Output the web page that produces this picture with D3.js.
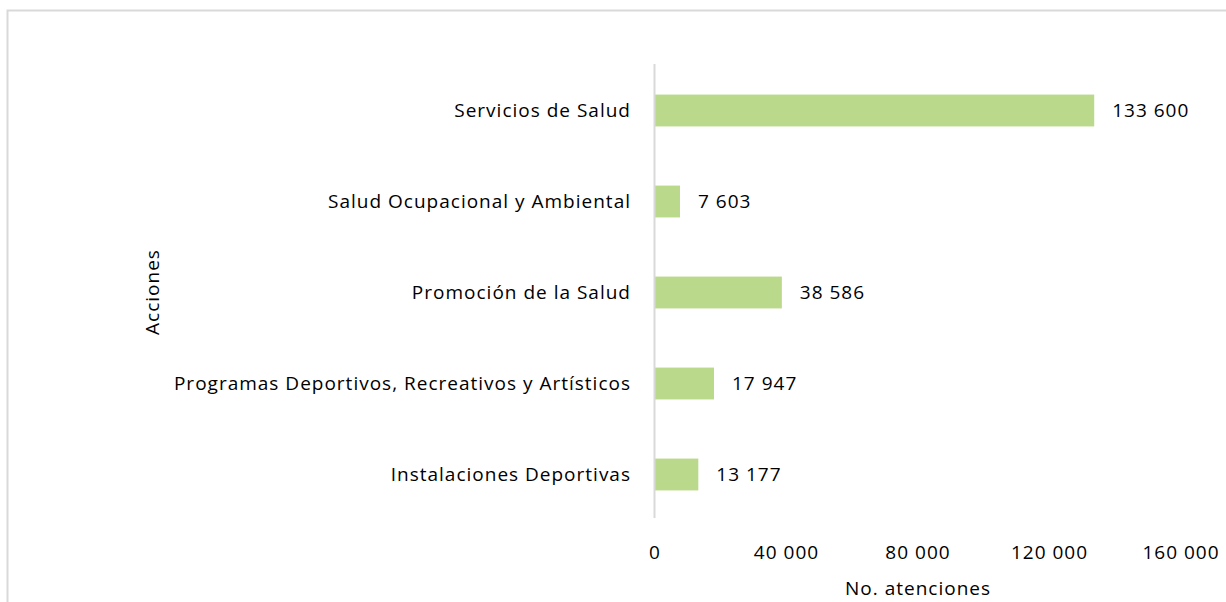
<!DOCTYPE html>
<html>
<head>
<meta charset="utf-8">
<script src="https://cdn.jsdelivr.net/npm/d3@7"></script>
<style>
  body { margin: 0; background: #fff; }
  text { font-family: "Open Sans", "Noto Sans", sans-serif; fill: #000; letter-spacing: 1px; }
</style>
</head>
<body>
<script>
const categories = [
  "Servicios de Salud",
  "Salud Ocupacional y Ambiental",
  "Promoción de la Salud",
  "Programas Deportivos, Recreativos y Artísticos",
  "Instalaciones Deportivas"
];
const values = [133600, 7603, 38586, 17947, 13177];
const ticks = [0, 40000, 80000, 120000, 160000];

const width = 1226, height = 602;
const fmt = v => d3.format(",")(v).replace(/,/g, " ");

const svg = d3.select("body").append("svg")
    .attr("width", width)
    .attr("height", height);

// chart border
svg.append("rect")
    .attr("x", 7.5).attr("y", 10.5)
    .attr("width", width).attr("height", height)
    .attr("fill", "none")
    .attr("stroke", "#d9d9d9")
    .attr("stroke-width", 2);

const x = d3.scaleLinear().domain([0, 160000]).range([655, 1181]);
const y = d3.scaleBand().domain(categories).range([65, 520]).paddingInner(0.65).paddingOuter(0.325);

// bars
svg.append("g")
  .selectAll("rect")
  .data(values)
  .join("rect")
    .attr("x", x(0))
    .attr("y", (d, i) => y(categories[i]))
    .attr("width", d => x(d) - x(0))
    .attr("height", y.bandwidth())
    .attr("fill", "#bbd98b");

// vertical axis line
svg.append("line")
    .attr("x1", 654.5).attr("x2", 654.5)
    .attr("y1", 64).attr("y2", 518)
    .attr("stroke", "#d9d9d9")
    .attr("stroke-width", 2);

// category labels
svg.append("g")
  .selectAll("text")
  .data(categories)
  .join("text")
    .attr("x", 631)
    .attr("y", d => y(d) + y.bandwidth() / 2)
    .attr("dy", "0.35em")
    .attr("text-anchor", "end")
    .attr("font-size", 19)
    .text(d => d);

// value labels
svg.append("g")
  .selectAll("text")
  .data(values)
  .join("text")
    .attr("x", d => x(d) + 18)
    .attr("y", (d, i) => y(categories[i]) + y.bandwidth() / 2)
    .attr("dy", "0.35em")
    .attr("font-size", 19)
    .text(d => fmt(d));

// x tick labels
svg.append("g")
  .selectAll("text")
  .data(ticks)
  .join("text")
    .attr("x", d => x(d))
    .attr("y", 552)
    .attr("dy", "0.35em")
    .attr("text-anchor", "middle")
    .attr("font-size", 19)
    .text(d => fmt(d));

// axis titles
svg.append("text")
    .attr("x", (x(0) + x(160000)) / 2)
    .attr("y", 588)
    .attr("dy", "0.35em")
    .attr("text-anchor", "middle")
    .attr("font-size", 19)
    .text("No. atenciones");

svg.append("text")
    .attr("transform", "translate(152,292) rotate(-90)")
    .attr("dy", "0.35em")
    .attr("text-anchor", "middle")
    .attr("font-size", 19)
    .text("Acciones");
</script>
</body>
</html>
